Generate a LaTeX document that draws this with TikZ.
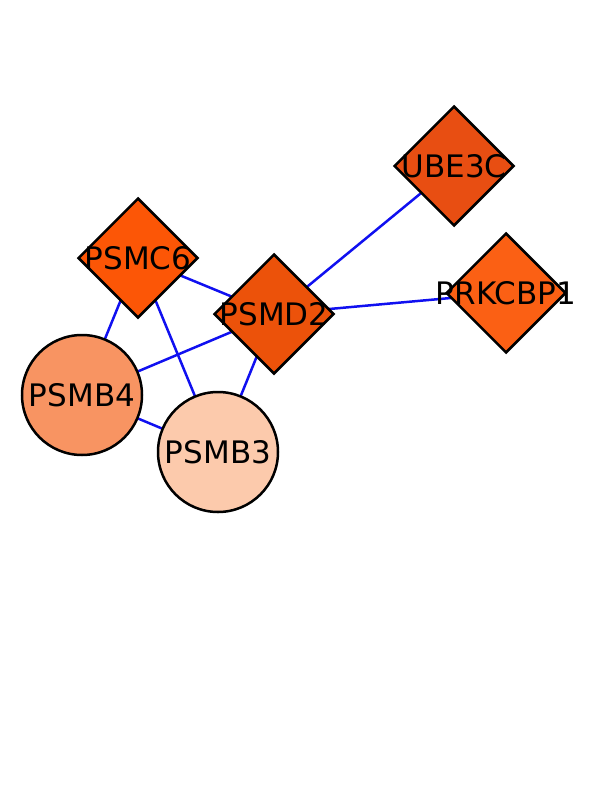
\documentclass[tikz,border=0pt]{standalone}
\usepackage{fontspec}
\setmainfont{DejaVu Sans}
\usetikzlibrary{shapes.geometric,backgrounds}
\definecolor{cPSMC}{HTML}{FC5606}
\definecolor{cPSMD}{HTML}{EC520A}
\definecolor{cUBE}{HTML}{E84E12}
\definecolor{cPRK}{HTML}{FB6014}
\definecolor{cB4}{HTML}{F89462}
\definecolor{cB3}{HTML}{FCCAAC}
\definecolor{cEdge}{HTML}{1010F0}
\tikzset{
  every label/.style={font=\fontsize{31}{33}\selectfont, inner sep=0pt},
  gene/.style={draw=black, line width=2.5pt, inner sep=0pt},
  dia/.style={gene, diamond, minimum width=120pt, minimum height=120pt},
  circ/.style={gene, circle, minimum size=120pt},
  link/.style={cEdge, line width=2.5pt},
}
\begin{document}
\begin{tikzpicture}[x=1pt,y=-1pt]
\useasboundingbox (0,0) rectangle (612,792);
\node[dia, fill=cUBE, label={center:UBE3C}] (ube) at (454,166) {};
\node[dia, fill=cPRK, label={center:PRKCBP1}] (prk) at (506,293) {};
\node[dia, fill=cPSMC, label={center:PSMC6}] (psmc) at (138,258) {};
\node[dia, fill=cPSMD, label={center:PSMD2}] (psmd) at (274,314) {};
\node[circ, fill=cB4, label={center:PSMB4}] (b4) at (82,395) {};
\node[circ, fill=cB3, label={center:PSMB3}] (b3) at (218,452) {};
\begin{pgfonlayer}{background}
\draw[link] (ube.center) -- (psmd.center);
\draw[link] (prk.center) -- (psmd.center);
\draw[link] (psmc.center) -- (psmd.center);
\draw[link] (psmc.center) -- (b4.center);
\draw[link] (psmc.center) -- (b3.center);
\draw[link] (psmd.center) -- (b4.center);
\draw[link] (psmd.center) -- (b3.center);
\draw[link] (b4.center) -- (b3.center);
\end{pgfonlayer}
\end{tikzpicture}
\end{document}
